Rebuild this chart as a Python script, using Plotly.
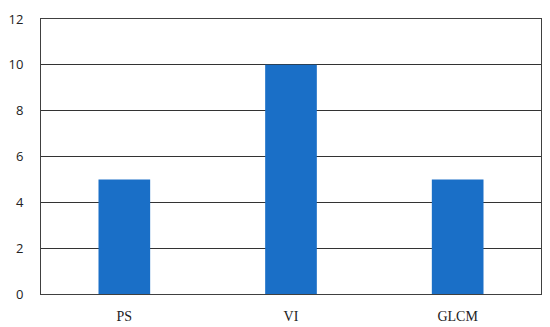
import plotly.graph_objects as go

# data
categories = ["PS", "VI", "GLCM"]
values = [5, 10, 5]
y_ticks = [0, 2, 4, 6, 8, 10, 12]

fig = go.Figure()

fig.add_trace(go.Bar(
    x=categories,
    y=values,
    marker_color="#1a6fc7",
    marker_line_width=0,
))

# the page body adds an 8px offset, so the figure is sized to fit inside it
fig.update_layout(
    width=542,
    height=319,
    margin=dict(l=33, r=9, t=11, b=33),
    plot_bgcolor="white",
    paper_bgcolor="white",
    bargap=0.69,
    showlegend=False,
)

fig.update_xaxes(
    automargin=False,
    showgrid=False,
    showline=True,
    linecolor="#404040",
    linewidth=1,
    mirror=True,
    ticks="outside",
    ticklen=9,
    tickcolor="rgba(0,0,0,0)",
    tickfont=dict(family="Liberation Serif", size=14, color="#222222"),
)

fig.update_yaxes(
    automargin=False,
    range=[0, 12],
    tickvals=y_ticks,
    showgrid=True,
    gridcolor="#333333",
    gridwidth=1,
    showline=True,
    linecolor="#404040",
    linewidth=1,
    mirror=True,
    zeroline=False,
    ticks="outside",
    ticklen=14,
    tickcolor="rgba(0,0,0,0)",
    tickfont=dict(family="Open Sans", size=13, color="#222222"),
)

fig.write_html("out.html")
